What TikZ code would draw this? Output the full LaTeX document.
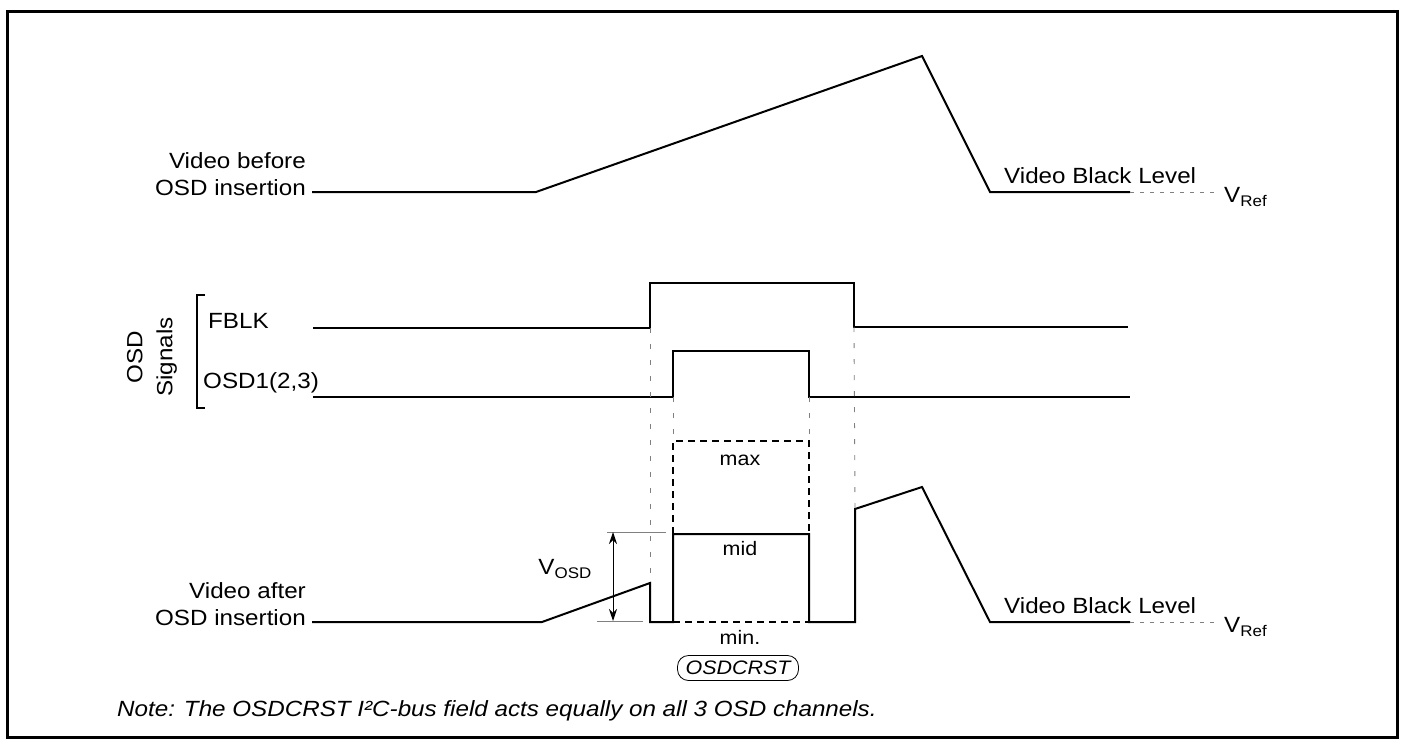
\documentclass[tikz,border=0pt]{standalone}
\usepackage{fontspec}
\setmainfont{Liberation Sans}[FakeStretch=1.1]
\usetikzlibrary{arrows.meta}
\begin{document}
\begin{tikzpicture}[x=1pt,y=-1pt,
  sig/.style={line width=2pt, line join=miter},
  guide/.style={gray, line width=0.9pt, dash pattern=on 5pt off 11pt},
  refline/.style={gray, line width=0.9pt, dash pattern=on 4pt off 6pt},
  lvl/.style={line width=2pt, dash pattern=on 7pt off 5pt},
  dim/.style={gray, line width=1pt},
  lbl/.style={font=\fontsize{22}{27}\selectfont, inner sep=0pt},
  small/.style={font=\fontsize{19.5}{22}\selectfont, inner sep=0pt},
  note/.style={font=\fontsize{22}{26}\selectfont\itshape, inner sep=0pt}]
\useasboundingbox (0,0) rectangle (1401,744);
\draw[line width=3pt] (7,11) rectangle (1397,737);

% ---- Video before OSD insertion
\coordinate (b0) at (312,192);
\coordinate (b1) at (536,192);
\coordinate (b2) at (922,56);
\coordinate (b3) at (990,192);
\coordinate (b4) at (1130,192);
\coordinate (b5) at (1214,192);
\draw[sig] (b0) -- (b1) -- (b2) -- (b3) -- (b4);
\draw[refline] (b4) -- (b5);
\node[lbl, anchor=east, align=right] (vb) at (306,174) {Video before\\OSD insertion};
\node[lbl, anchor=west] (vbl1) at (1004,176) {Video Black Level};
\node[lbl, anchor=west] (vr1) at (1224,197) {V\textsubscript{Ref}};

% ---- FBLK
\coordinate (f0) at (313,328);
\coordinate (f1) at (650,328);
\coordinate (f2) at (650,283);
\coordinate (f3) at (854,283);
\coordinate (f4) at (854,327);
\coordinate (f5) at (1128,327);
\draw[sig] (f0) -- (f1) -- (f2) -- (f3) -- (f4) -- (f5);

% ---- OSD1(2,3)
\coordinate (o0) at (313,397);
\coordinate (o1) at (673,397);
\coordinate (o2) at (673,351);
\coordinate (o3) at (809,351);
\coordinate (o4) at (809,397);
\coordinate (o5) at (1130,397);
\draw[sig] (o0) -- (o1) -- (o2) -- (o3) -- (o4) -- (o5);

\node[lbl, anchor=west] (fblk) at (208,321) {FBLK};
\node[lbl, anchor=west] (osd) at (203,383) {OSD1(2,3)};
\draw[line width=2pt] (205,295) -- (197,295) -- (197,408) -- (205,408);
\node[lbl, font=\fontsize{22}{30}\selectfont, rotate=90, align=center] (osdsig) at (152,357) {OSD\\Signals};

% ---- Video after OSD insertion
\coordinate (a0) at (312,622);
\coordinate (a1) at (542,622);
\coordinate (a2) at (650,583);
\coordinate (a3) at (650,622);
\coordinate (a4) at (673,622);
\coordinate (a5) at (673,534);
\coordinate (a6) at (809,534);
\coordinate (a7) at (809,622);
\coordinate (a8) at (855,622);
\coordinate (a9) at (855,509);
\coordinate (a10) at (922,487);
\coordinate (a11) at (990,622);
\coordinate (a12) at (1130,622);
\coordinate (a13) at (1214,622);
\draw[sig] (a0) -- (a1) -- (a2) -- (a3) -- (a4) -- (a5) -- (a6) -- (a7) -- (a8) -- (a9) -- (a10) -- (a11) -- (a12);
\draw[refline] (a12) -- (a13);
\node[lbl, anchor=east, align=right] (va) at (306,604) {Video after\\OSD insertion};
\node[lbl, anchor=west] (vbl2) at (1004,606) {Video Black Level};
\node[lbl, anchor=west] (vr2) at (1224,627) {V\textsubscript{Ref}};

% ---- level box (max / min)
\coordinate (m0) at (673,441);
\coordinate (m1) at (809,441);
\draw[lvl] (a5) -- (m0) -- (m1) -- (a6);
\draw[lvl] (a4) -- (a7);
\node[small] (max) at (740,460) {max};
\node[small] (mid) at (740,549) {mid};
\node[small] (min) at (740,637) {min.};
\node[small, font=\fontsize{19.5}{22}\selectfont\itshape, draw, line width=0.8pt, rounded corners=11pt,
      minimum width=121pt, minimum height=25pt] (crst) at (738,668) {OSDCRST};

% ---- guides
\draw[guide] (f1) -- (a2);
\draw[guide] (o1) -- (m0);
\draw[guide] (o4) -- (m1);
\draw[guide] (f4) -- (a9);

% ---- V_OSD dimension
\coordinate (d0) at (607,532);
\coordinate (d1) at (666,532);
\coordinate (d2) at (597,621);
\coordinate (d3) at (643,621);
\coordinate (dt) at (613,532);
\coordinate (db) at (613,621);
\draw[dim] (d0) -- (d1);
\draw[dim] (d2) -- (d3);
\draw[line width=1pt, {Stealth[length=12pt,width=8pt]}-{Stealth[length=12pt,width=8pt]}] (dt) -- (db);
\node[lbl, anchor=east] (vosd) at (592,569) {V\textsubscript{OSD}};

% ---- note
\node[note, anchor=west] (nt) at (117,711) {Note: The OSDCRST I²C-bus field acts equally on all 3 OSD channels.};
\end{tikzpicture}
\end{document}
